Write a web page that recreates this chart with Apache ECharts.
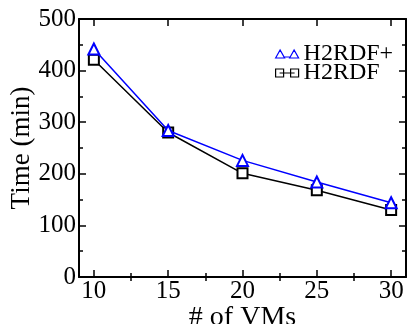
<!DOCTYPE html>
<html>
<head>
<meta charset="utf-8">
<script src="https://cdn.jsdelivr.net/npm/echarts@6/dist/echarts.min.js"></script>
<style>
  html, body { margin: 0; padding: 0; background: #fff; }
  #chart { width: 407px; height: 324px; }
</style>
</head>
<body>
<div id="chart"></div>
<script>
// VM counts and run times (minutes)
const vms = [10, 15, 20, 25, 30];
const h2rdfPlus = [442, 284, 226, 184, 144];
const h2rdf = [421, 280, 201, 168, 130];
const xMajorTicks = [10, 15, 20, 25, 30];
const xMinorTicks = [12.5, 17.5, 22.5, 27.5];

const font = 'Liberation Serif';
const axisColor = '#000';

const chart = echarts.init(document.getElementById('chart'));

const baseX = {
  type: 'value',
  min: 9,
  max: 31,
  splitLine: { show: false },
  axisLine: { show: false }
};

const option = {
  backgroundColor: '#fff',
  animation: false,
  grid: { left: 79, right: 1, top: 19, bottom: 47, outerBoundsMode: 'none', containLabel: false },
  legend: {
    orient: 'vertical',
    left: 275,
    top: 42,
    padding: 0,
    itemWidth: 23,
    itemHeight: 8,
    itemGap: -5,
    textStyle: { fontFamily: font, fontSize: 24, color: '#000' },
    data: [
      {
        name: 'H2RDF+',
        icon: 'path://M0,8L4.5,0L9,8Z M14,8L18.5,0L23,8Z M9,7L14,7',
        itemStyle: { color: '#fff', borderColor: '#0000ff', borderWidth: 1.2 }
      },
      {
        name: 'H2RDF',
        icon: 'path://M0,0H8V8H0Z M15,0H23V8H15Z M4,4H19',
        itemStyle: { color: '#fff', borderColor: '#000', borderWidth: 1.2 }
      }
    ]
  },
  xAxis: [
    {
      ...baseX,
      position: 'bottom',
      name: '# of VMs',
      nameLocation: 'middle',
      nameGap: 27,
      nameMoveOverlap: false,
      nameTextStyle: { fontFamily: font, fontSize: 28, color: '#000' },
      axisLine: { show: true, onZero: false, lineStyle: { color: axisColor, width: 2 } },
      axisTick: { inside: true, length: 7, customValues: xMajorTicks, lineStyle: { color: axisColor, width: 1.5 } },
      axisLabel: { customValues: xMajorTicks, fontFamily: font, fontSize: 25, color: '#000', margin: 2 }
    },
    {
      ...baseX,
      position: 'bottom',
      axisTick: { inside: true, length: 4, customValues: xMinorTicks, lineStyle: { color: axisColor, width: 1.5 } },
      axisLabel: { show: false }
    },
    {
      ...baseX,
      position: 'top',
      axisLine: { show: true, onZero: false, lineStyle: { color: axisColor, width: 2 } },
      axisTick: { inside: true, length: 7, customValues: xMajorTicks, lineStyle: { color: axisColor, width: 1.5 } },
      axisLabel: { show: false }
    },
    {
      ...baseX,
      position: 'top',
      axisTick: { inside: true, length: 4, customValues: xMinorTicks, lineStyle: { color: axisColor, width: 1.5 } },
      axisLabel: { show: false }
    }
  ],
  yAxis: [
    {
      type: 'value',
      position: 'left',
      min: 0,
      max: 500,
      interval: 100,
      name: 'Time (min)',
      nameLocation: 'middle',
      nameGap: 44,
      nameMoveOverlap: false,
      nameTextStyle: { fontFamily: font, fontSize: 27, color: '#000' },
      splitLine: { show: false },
      axisLine: { show: true, onZero: false, lineStyle: { color: axisColor, width: 2 } },
      axisTick: { inside: true, length: 7, lineStyle: { color: axisColor, width: 1.5 } },
      minorTick: { show: true, splitNumber: 2, length: 4, lineStyle: { color: axisColor, width: 1.5 } },
      axisLabel: { fontFamily: font, fontSize: 25, color: '#000', margin: 3 }
    },
    {
      type: 'value',
      position: 'right',
      min: 0,
      max: 500,
      interval: 100,
      splitLine: { show: false },
      axisLine: { show: true, onZero: false, lineStyle: { color: axisColor, width: 2 } },
      axisTick: { inside: true, length: 7, lineStyle: { color: axisColor, width: 1.5 } },
      minorTick: { show: true, splitNumber: 2, length: 4, lineStyle: { color: axisColor, width: 1.5 } },
      axisLabel: { show: false }
    }
  ],
  series: [
    {
      name: 'H2RDF+',
      type: 'line',
      xAxisIndex: 0,
      yAxisIndex: 0,
      data: vms.map((v, i) => [v, h2rdfPlus[i]]),
      symbol: 'emptyTriangle',
      symbolSize: 11,
      color: '#0000ff',
      lineStyle: { color: '#0000ff', width: 1.5 },
      itemStyle: { color: '#0000ff', borderWidth: 1.2 },
      z: 3
    },
    {
      name: 'H2RDF',
      type: 'line',
      xAxisIndex: 0,
      yAxisIndex: 0,
      data: vms.map((v, i) => [v, h2rdf[i]]),
      symbol: 'emptyRect',
      symbolSize: 10,
      color: '#000',
      lineStyle: { color: '#000', width: 1.5 },
      itemStyle: { color: '#000', borderWidth: 1.2 },
      z: 2
    }
  ]
};

chart.setOption(option);
</script>
</body>
</html>
